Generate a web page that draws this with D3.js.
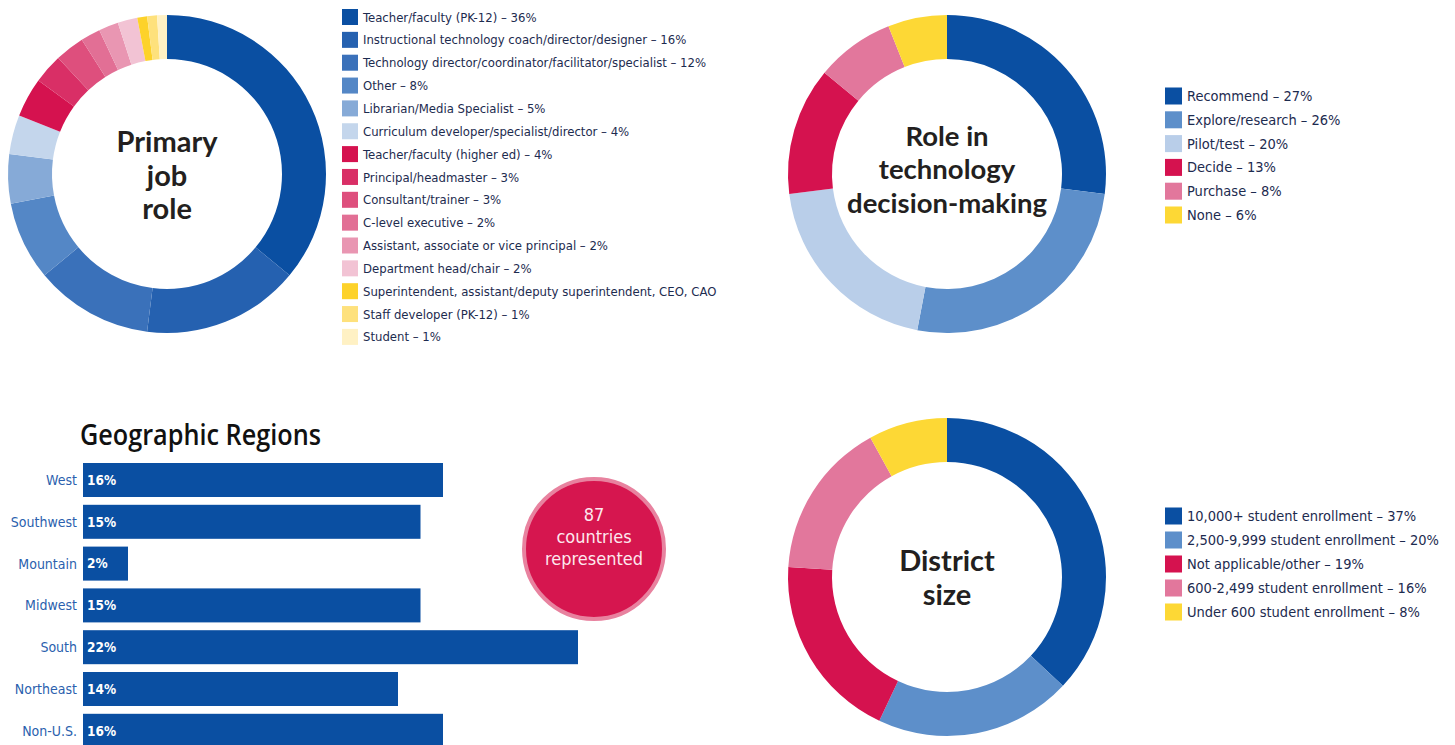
<!DOCTYPE html>
<html>
<head>
<meta charset="utf-8">
<script src="https://cdn.jsdelivr.net/npm/d3@7"></script>
<style>
  body { margin: 0; background: #fff; }
  svg { display: block; }
  .legend text { font-family: "DejaVu Sans Condensed", sans-serif; fill: #1d2b4f; }
  .center text { font-family: Lato, "Open Sans", sans-serif; font-weight: 700; fill: #231f20; text-anchor: middle; }
</style>
</head>
<body>
<div id="chart"></div>
<script>
// primary job role
const jobRoles = [
  'Teacher/faculty (PK-12)', 'Instructional technology coach/director/designer',
  'Technology director/coordinator/facilitator/specialist', 'Other',
  'Librarian/Media Specialist', 'Curriculum developer/specialist/director',
  'Teacher/faculty (higher ed)', 'Principal/headmaster', 'Consultant/trainer',
  'C-level executive', 'Assistant, associate or vice principal', 'Department head/chair',
  'Superintendent, assistant/deputy superintendent, CEO, CAO', 'Staff developer (PK-12)', 'Student'
];
const jobValues = [36, 16, 12, 8, 5, 4, 4, 3, 3, 2, 2, 2, 1, 1, 1];
const jobColors = ['#0a4fa2', '#2561b0', '#3a71ba', '#5487c6', '#86aad7', '#c4d6ec',
  '#d5124f', '#d92f66', '#de4f7d', '#e26f95', '#e996b2', '#f2c3d4', '#fdd22a', '#fee17c', '#fff1c4'];

// role in technology decision-making
const decisionRoles = ['Recommend', 'Explore/research', 'Pilot/test', 'Decide', 'Purchase', 'None'];
const decisionValues = [27, 26, 20, 13, 8, 6];
const decisionColors = ['#0a4fa2', '#5d8fca', '#b9cee9', '#d5124f', '#e2779c', '#fdd835'];

// district size
const districtSizes = ['10,000+ student enrollment', '2,500-9,999 student enrollment',
  'Not applicable/other', '600-2,499 student enrollment', 'Under 600 student enrollment'];
const districtValues = [37, 20, 19, 16, 8];
const districtColors = ['#0a4fa2', '#5d8fca', '#d5124f', '#e2779c', '#fdd835'];

// geographic regions
const regions = ['West', 'Southwest', 'Mountain', 'Midwest', 'South', 'Northeast', 'Non-U.S.'];
const regionValues = [16, 15, 2, 15, 22, 14, 16];

const W = 1455, H = 745;

const svg = d3.select('#chart').append('svg')
  .attr('width', W)
  .attr('height', H);

const pie = d3.pie().sort(null).value(d => d.value);

const donut = (cx, cy, labels, values, colors, title, titleY, titleSize) => {
  const data = labels.map((l, i) => ({ label: l, value: values[i], color: colors[i] }));
  const arc = d3.arc().innerRadius(115).outerRadius(159);
  const g = svg.append('g').attr('transform', `translate(${cx}, ${cy})`);
  g.selectAll('path')
    .data(pie(data))
    .enter().append('path')
      .attr('d', arc)
      .attr('fill', d => d.data.color);

  const t = g.append('g').attr('class', 'center');
  title.forEach((line, i) => {
    t.append('text')
      .attr('y', titleY + i * 33.5)
      .attr('dy', '0.35em')
      .style('font-size', `${titleSize}px`)
      .text(line);
  });
  return data;
};

const legend = (x, y, step, box, size, data, clip) => {
  const g = svg.append('g').attr('class', 'legend');
  if (clip) {
    svg.append('clipPath').attr('id', 'legclip')
      .append('rect').attr('x', 0).attr('y', 0).attr('width', clip).attr('height', H);
    g.attr('clip-path', 'url(#legclip)');
  }
  const row = g.selectAll('g')
    .data(data)
    .enter().append('g')
      .attr('transform', (d, i) => `translate(${x}, ${y + i * step})`);
  row.append('rect')
    .attr('x', 0)
    .attr('y', -box / 2)
    .attr('width', box)
    .attr('height', box)
    .attr('fill', d => d.color);
  row.append('text')
    .attr('x', box + 5)
    .attr('dy', '0.35em')
    .style('font-size', `${size}px`)
    .text(d => `${d.label} – ${d.value}%`);
};

const jobData = donut(167, 174, jobRoles, jobValues, jobColors, ['Primary', 'job', 'role'], -32, 29);
legend(342, 17, 22.85, 16, 13, jobData, 717);

const decData = donut(947, 174, decisionRoles, decisionValues, decisionColors,
  ['Role in', 'technology', 'decision-making'], -38, 27.5);
legend(1165, 96, 23.8, 17, 14.5, decData);

const distData = donut(947, 577, districtSizes, districtValues, districtColors, ['District', 'size'], -16, 29);
legend(1165, 516, 24, 17, 14.5, distData);

// bar chart
const x = d3.scaleLinear().domain([0, 22]).range([83, 578]);
const y = d3.scaleBand().domain(regions).range([463, 463 + 6 * 41.8 + 34]).paddingInner(7.8 / 41.8);

svg.append('text')
  .attr('x', 80)
  .attr('y', 445)
  .attr('textLength', 241)
  .attr('lengthAdjust', 'spacingAndGlyphs')
  .style('font-family', '"Open Sans", sans-serif')
  .style('font-weight', 600)
  .style('font-size', '29px')
  .style('fill', '#111')
  .text('Geographic Regions');

const bars = svg.append('g');
bars.selectAll('rect')
  .data(regions)
  .enter().append('rect')
    .attr('x', x(0))
    .attr('y', d => y(d))
    .attr('width', (d, i) => x(regionValues[i]) - x(0))
    .attr('height', y.bandwidth())
    .attr('fill', '#0a4fa2');

bars.selectAll('.name')
  .data(regions)
  .enter().append('text')
    .attr('class', 'name')
    .attr('x', 77)
    .attr('y', d => y(d) + y.bandwidth() / 2)
    .attr('dy', '0.35em')
    .attr('text-anchor', 'end')
    .style('font-family', '"DejaVu Sans Condensed", sans-serif')
    .style('font-size', '14px')
    .style('fill', '#2b5fae')
    .text(d => d);

bars.selectAll('.val')
  .data(regions)
  .enter().append('text')
    .attr('class', 'val')
    .attr('x', 87)
    .attr('y', d => y(d) + y.bandwidth() / 2)
    .attr('dy', '0.35em')
    .style('font-family', '"DejaVu Sans Condensed", sans-serif')
    .style('font-weight', 700)
    .style('font-size', '13.5px')
    .style('fill', '#fff')
    .text((d, i) => `${regionValues[i]}%`);

// countries badge
const badge = svg.append('g').attr('transform', 'translate(594, 549)');
badge.append('circle')
  .attr('r', 70)
  .attr('fill', '#d6164f')
  .attr('stroke', '#e8829f')
  .attr('stroke-width', 4);
['87', 'countries', 'represented'].forEach((line, i) => {
  badge.append('text')
    .attr('y', -34 + i * 22)
    .attr('dy', '0.35em')
    .attr('text-anchor', 'middle')
    .style('font-family', '"DejaVu Sans Condensed", sans-serif')
    .style('font-size', '18px')
    .style('fill', '#fde8ee')
    .text(line);
});
</script>
</body>
</html>
